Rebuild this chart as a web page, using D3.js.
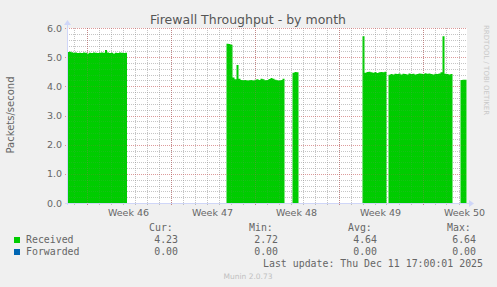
<!DOCTYPE html>
<html>
<head>
<meta charset="utf-8">
<script src="https://cdn.jsdelivr.net/npm/d3@7"></script>
<style>
  body { margin: 0; padding: 0; background: #F0F0F0; }
  svg { display: block; }
</style>
</head>
<body>
<svg id="chart" width="497" height="287"></svg>
<script>
// window of the graph (UTC)
const tStart = Date.UTC(2025, 10, 8, 9, 0);
const tEnd = Date.UTC(2025, 11, 11, 17, 0);
const stepHours = 4;

// received packets/second, one value per 4 hour step, each run starts at segStarts[i]
const segStarts = ["2025-11-08T09:00Z", "2025-11-21T16:00Z", "2025-11-27T04:00Z",
                   "2025-12-03T00:00Z", "2025-12-05T04:00Z", "2025-12-11T04:00Z"];
const seg1 = [5.18, 5.19, 5.17, 5.15, 5.16, 5.14, 5.15, 5.14, 5.16, 5.15, 5.13, 5.15, 5.14, 5.16, 5.15,
              5.14, 5.15, 5.16, 5.15, 5.25, 5.16, 5.14, 5.15, 5.13, 5.15, 5.14, 5.16, 5.15, 5.14, 5.15];
const seg2 = [5.46, 5.45, 5.43, 4.30, 4.24, 4.73, 4.26, 4.22, 4.21, 4.22, 4.20, 4.21, 4.22, 4.20, 4.23,
              4.24, 4.22, 4.26, 4.24, 4.21, 4.22, 4.25, 4.29, 4.26, 4.23, 4.21, 4.20, 4.22, 4.26];
const seg3 = [4.47, 4.49, 4.48];
const seg4 = [5.72, 4.47, 4.49, 4.50, 4.48, 4.47, 4.49, 4.46, 4.48, 4.49, 4.48, 4.50];
const seg5 = [4.40, 4.42, 4.41, 4.43, 4.42, 4.44, 4.41, 4.43, 4.42, 4.41, 4.44, 4.42, 4.43, 4.41, 4.42, 4.44,
              4.43, 4.42, 4.45, 4.43, 4.44, 4.42, 4.41, 4.43, 4.42, 4.44, 4.48, 5.72, 4.43, 4.42, 4.41, 4.42];
const seg6 = [4.22, 4.23, 4.23];
const segValues = [seg1, seg2, seg3, seg4, seg5, seg6];

const yTicks = [0, 1, 2, 3, 4, 5, 6];

// legend
const seriesNames = ["Received", "Forwarded"];
const seriesColors = ["#00CC00", "#0066B3"];
const statHeads = ["Cur:", "Min:", "Avg:", "Max:"];
const statCur = ["4.23", "0.00"];
const statMin = ["2.72", "0.00"];
const statAvg = ["4.64", "0.00"];
const statMax = ["6.64", "0.00"];

const svg = d3.select("#chart");
const pL = 67, pR = 467, pT = 28, pB = 203;
const axisCol = "#CFD6F8";
const fontCol = "#666666";
const sans = "'DejaVu Sans', sans-serif";
const mono = "'DejaVu Sans Mono', monospace";

const x = d3.scaleUtc().domain([tStart, tEnd]).range([pL, pR]);
const y = d3.scaleLinear().domain([0, 6]).range([pB, pT]);

svg.append("rect").attr("width", 497).attr("height", 287).attr("fill", "#F0F0F0");
svg.append("rect").attr("x", pL).attr("y", pT).attr("width", pR - pL).attr("height", pB - pT)
    .attr("fill", "#FFFFFF");

// title
svg.append("text").attr("x", 248).attr("y", 24).attr("text-anchor", "middle")
    .style("font-family", sans).style("font-size", "12.5px").style("fill", "#555")
    .text("Firewall Throughput - by month");

const minorY = d3.range(0, 6.01, 0.2).filter(v => Math.abs(v - Math.round(v)) > 0.01);
const days = d3.utcDay.range(new Date(tStart), new Date(tEnd));
const weeks = d3.utcMonday.range(new Date(tStart), new Date(tEnd));

function drawGrid(minorCol, majorCol) {
    const g = svg.append("g").attr("shape-rendering", "crispEdges");
    g.selectAll(".hmin").data(minorY).enter().append("line")
        .attr("x1", pL).attr("x2", pR)
        .attr("y1", d => Math.round(y(d)) + 0.5).attr("y2", d => Math.round(y(d)) + 0.5)
        .attr("stroke", minorCol).attr("stroke-dasharray", "1,1");
    g.selectAll(".vmin").data(days).enter().append("line")
        .attr("x1", d => Math.round(x(d)) + 0.5).attr("x2", d => Math.round(x(d)) + 0.5)
        .attr("y1", pT).attr("y2", pB + 2)
        .attr("stroke", minorCol).attr("stroke-dasharray", "1,1");
    g.selectAll(".hmaj").data(yTicks.slice(1)).enter().append("line")
        .attr("x1", pL - 2).attr("x2", pR)
        .attr("y1", d => Math.round(y(d)) + 0.5).attr("y2", d => Math.round(y(d)) + 0.5)
        .attr("stroke", majorCol).attr("stroke-dasharray", "1,1");
    g.selectAll(".vmaj").data(weeks).enter().append("line")
        .attr("x1", d => Math.round(x(d)) + 0.5).attr("x2", d => Math.round(x(d)) + 0.5)
        .attr("y1", pT).attr("y2", pB + 3)
        .attr("stroke", majorCol).attr("stroke-dasharray", "1,1");
}

drawGrid("rgba(140,140,140,0.42)", "rgba(200,90,90,0.5)");

// area
const area = d3.area()
    .x(d => x(d.t))
    .y0(y(0))
    .y1(d => y(d.v))
    .curve(d3.curveStepAfter);

segValues.forEach((vals, i) => {
    const t0 = Date.parse(segStarts[i]);
    const pts = vals.map((v, j) => ({ t: t0 + j * stepHours * 3600e3, v: v }));
    pts.push({ t: t0 + vals.length * stepHours * 3600e3, v: vals[vals.length - 1] });
    svg.append("path").attr("d", area(pts)).attr("fill", seriesColors[0]);
});

// faint grid showing through the area
drawGrid("rgba(140,140,140,0.15)", "rgba(200,90,90,0.2)");

// axes
svg.append("line").attr("x1", pL - 2).attr("x2", pR + 3).attr("y1", pB + 0.5).attr("y2", pB + 0.5)
    .attr("stroke", axisCol);
svg.append("line").attr("x1", pL + 0.5).attr("x2", pL + 0.5).attr("y1", pB + 2).attr("y2", pT - 4)
    .attr("stroke", axisCol);
svg.append("path").attr("d", `M${pR + 2},${pB - 3}L${pR + 7},${pB + 0.5}L${pR + 2},${pB + 4}Z`)
    .attr("fill", axisCol);
svg.append("path").attr("d", `M${pL - 3},${pT - 3}L${pL + 0.5},${pT - 8}L${pL + 4},${pT - 3}Z`)
    .attr("fill", axisCol);

// y tick labels
svg.selectAll(".ylab").data(yTicks).enter().append("text")
    .attr("x", 62).attr("y", d => y(d) + 3.5).attr("text-anchor", "end")
    .style("font-family", sans).style("font-size", "9.5px").style("fill", fontCol)
    .text(d => d.toFixed(1));

// week labels, centred mid-week
svg.selectAll(".xlab").data(weeks).enter().append("text")
    .attr("x", d => x(d3.utcHour.offset(d, 84))).attr("y", 215.5).attr("text-anchor", "middle")
    .style("font-family", sans).style("font-size", "9.5px").style("fill", fontCol)
    .text(d => "Week " + d3.utcFormat("%V")(d));

// vertical axis title
svg.append("text").attr("transform", "translate(14,115) rotate(-90)").attr("text-anchor", "middle")
    .style("font-family", sans).style("font-size", "10px").style("fill", fontCol)
    .text("Packets/second");

// rrdtool watermark
svg.append("text").attr("transform", "translate(484,25) rotate(90)")
    .style("font-family", sans).style("font-size", "7px").style("fill", "#C8C8C8")
    .text("RRDTOOL / TOBI OETIKER");

// legend
const lg = svg.append("g").style("font-family", mono).style("font-size", "9.9px").style("fill", fontCol);
const colX = [149, 249, 348, 447];
statHeads.forEach((h, i) => lg.append("text").attr("x", colX[i]).attr("y", 231).text(h));
const stats = [statCur, statMin, statAvg, statMax];
seriesNames.forEach((n, r) => {
    const yy = 243 + r * 12;
    svg.append("rect").attr("x", 14).attr("y", yy - 6).attr("width", 6).attr("height", 6)
        .attr("fill", seriesColors[r]);
    lg.append("text").attr("x", 26).attr("y", yy).text(n);
    stats.forEach((s, i) => lg.append("text").attr("x", colX[i] + 29).attr("y", yy)
        .attr("text-anchor", "end").text(s[r]));
});
lg.append("text").attr("x", 483).attr("y", 267).attr("text-anchor", "end")
    .text("Last update: Thu Dec 11 17:00:01 2025");
svg.append("text").attr("x", 248).attr("y", 279).attr("text-anchor", "middle")
    .style("font-family", sans).style("font-size", "7.5px").style("fill", "#C0C0C0")
    .text("Munin 2.0.73");
</script>
</body>
</html>
